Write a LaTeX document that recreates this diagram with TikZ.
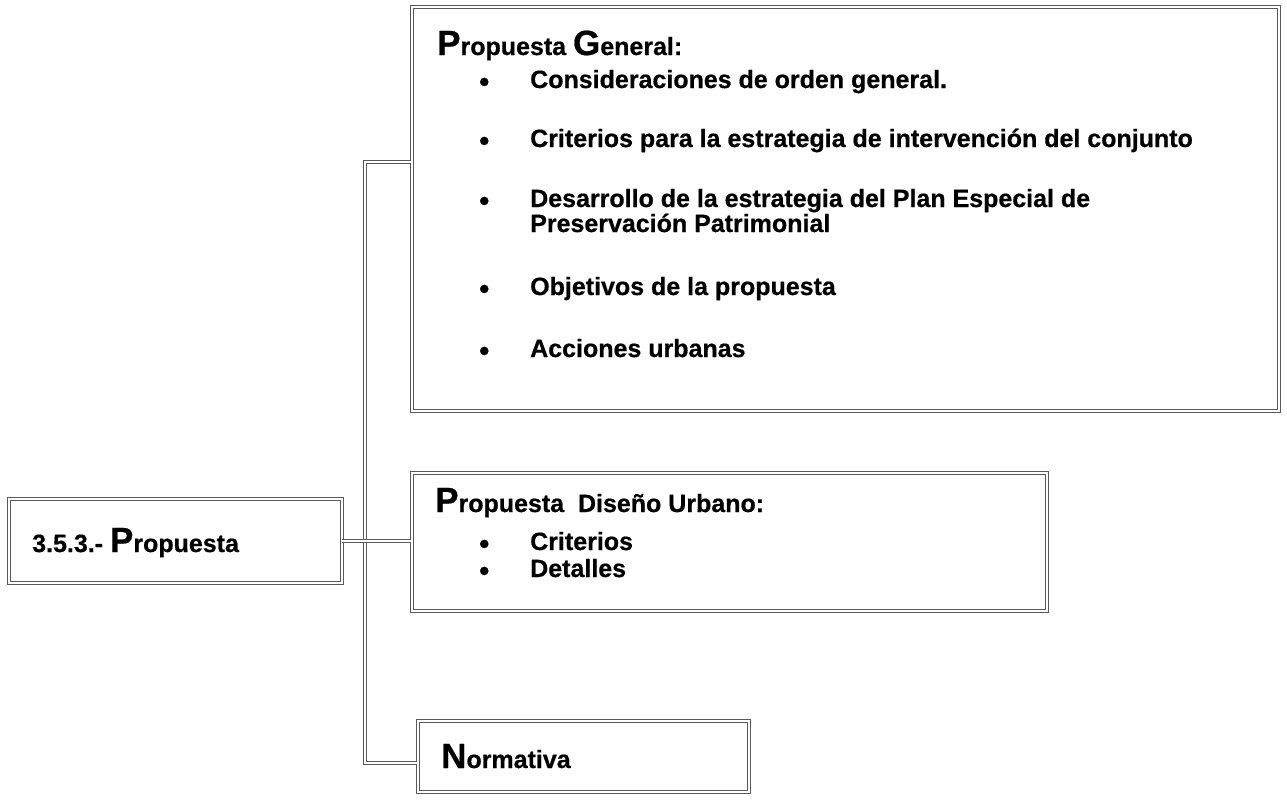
\documentclass[tikz,border=0pt]{standalone}
\usepackage{fontspec}
\setmainfont{Liberation Sans}[BoldFeatures={FakeBold=0.6}]
\newcommand{\bigL}[1]{{\fontsize{35}{35}\selectfont #1}}
\begin{document}
\begin{tikzpicture}[x=1pt,y=-1pt,
  frm/.style={rectangle, draw=black!65, double=white, double distance=2pt, line width=1pt, inner sep=0pt, anchor=north west},
  conn/.style={draw=black!65, double=white, double distance=2pt, line width=1pt},
  txt/.style={anchor=base west, inner sep=0pt, font=\bfseries\fontsize{25}{29}\selectfont},
  bul/.style={anchor=base west, inner sep=0pt, font=\bfseries\fontsize{29}{29}\selectfont}]
\useasboundingbox (0,0) rectangle (1287,801);
% boxes
\node[frm, minimum width=867pt, minimum height=404pt] (gen) at (411,6) {};
\node[frm, minimum width=635pt, minimum height=138pt] (dis) at (411,472) {};
\node[frm, minimum width=333pt, minimum height=84pt] (prop) at (8,498) {};
\node[frm, minimum width=331pt, minimum height=71pt] (norm) at (417,720) {};
% connectors
\coordinate (top) at (365,162);
\coordinate (bot) at (365,763);
\draw[conn] (top -| gen.west) -- (top) -- (bot) -- (bot -| norm.west);
\draw[conn] (prop.east) -- (prop.east -| dis.west);
% texts box 1
\node[txt] (t1) at (437,55) {\bigL{P}ropuesta \bigL{G}eneral:};
\node[bul] (b1) at (479,91.5) {•};
\node[txt] (t2) at (530,88) {Consideraciones de orden general.};
\node[bul] (b2) at (479,150.5) {•};
\node[txt] (t3) at (530,147) {Criterios para la estrategia de intervención del conjunto};
\node[bul] (b3) at (479,210.5) {•};
\node[txt] (t4) at (530,207) {Desarrollo de la estrategia del Plan Especial de};
\node[txt] (t5) at (530,232) {Preservación Patrimonial};
\node[bul] (b4) at (479,298.5) {•};
\node[txt] (t6) at (530,295) {Objetivos de la propuesta};
\node[bul] (b5) at (479,360.5) {•};
\node[txt] (t7) at (530,357) {Acciones urbanas};
% box 2
\node[txt] (d1) at (435,512) {\bigL{P}ropuesta\ \ Diseño Urbano:};
\node[bul] (db1) at (479,553.5) {•};
\node[txt] (d2) at (530,550) {Criterios};
\node[bul] (db2) at (479,580.5) {•};
\node[txt] (d3) at (530,577) {Detalles};
% left box
\node[txt] (p1) at (32,552) {3.5.3.- \bigL{P}ropuesta};
% box 3
\node[txt] (n1) at (441,768) {\bigL{N}ormativa};
\end{tikzpicture}
\end{document}
